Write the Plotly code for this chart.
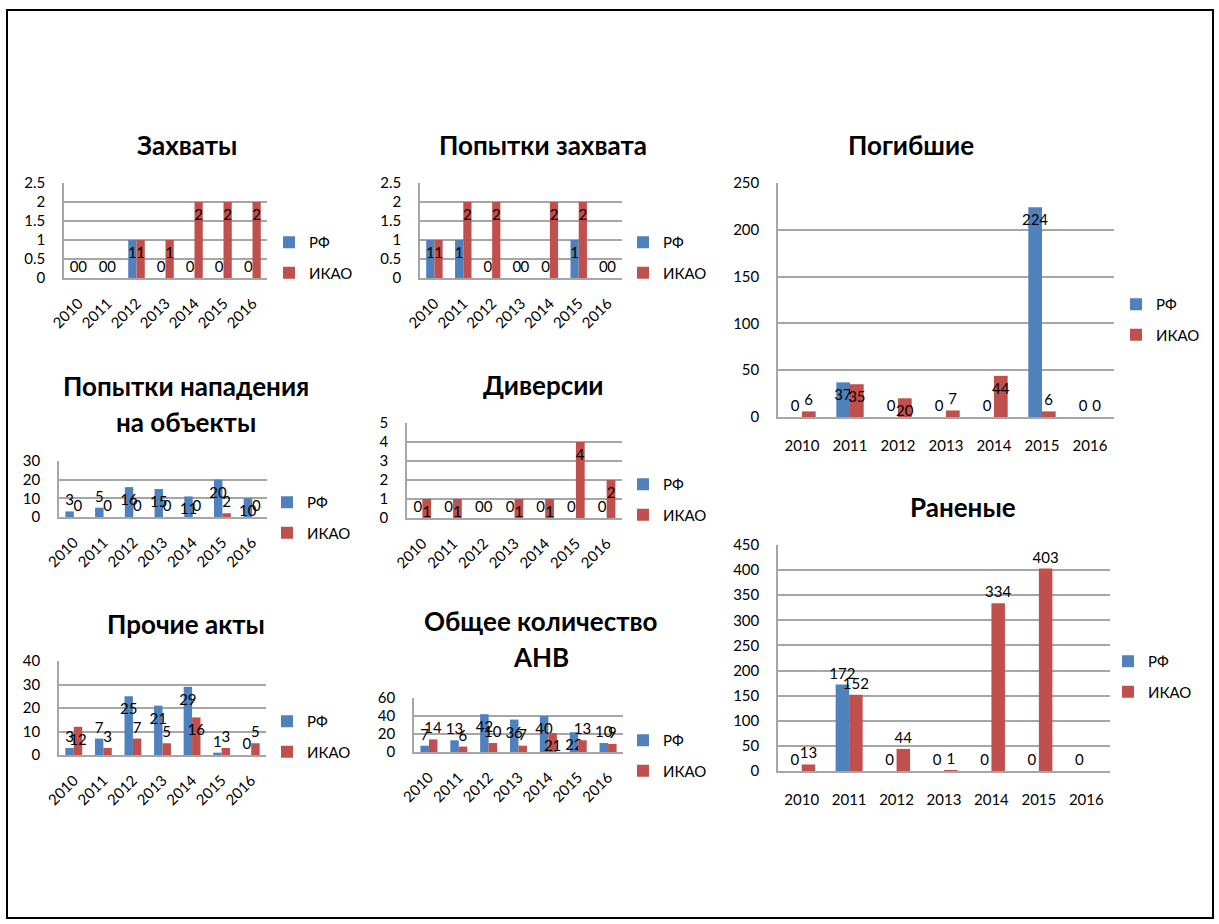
import plotly.graph_objects as go

# ---- data ----
YEARS = ["2010", "2011", "2012", "2013", "2014", "2015", "2016"]
SERIES = ["РФ", "ИКАО"]

zahvaty_rf = [0, 0, 1, 0, 0, 0, 0]
zahvaty_icao = [0, 0, 1, 1, 2, 2, 2]

popytki_zahvata_rf = [1, 1, 0, 0, 0, 1, 0]
popytki_zahvata_icao = [1, 2, 2, 0, 2, 2, 0]

pogibshie_rf = [0, 37, 0, 0, 0, 224, 0]
pogibshie_icao = [6, 35, 20, 7, 44, 6, 0]

napadenie_rf = [3, 5, 16, 15, 11, 20, 10]
napadenie_icao = [0, 0, 0, 0, 0, 2, 0]

diversii_rf = [0, 0, 0, 0, 0, 0, 0]
diversii_icao = [1, 1, 0, 1, 1, 4, 2]

ranenye_rf = [0, 172, 0, 0, 0, 0, 0]
ranenye_icao = [13, 152, 44, 1, 334, 403, None]

prochie_rf = [3, 7, 25, 21, 29, 1, 0]
prochie_icao = [12, 3, 7, 5, 16, 3, 5]

obshchee_rf = [7, 13, 42, 36, 40, 22, 10]
obshchee_icao = [14, 6, 10, 7, 21, 13, 9]

# ---- styling ----
W, H = 1219, 924
FONT = "Lato"
COLORS = {"РФ": "#4F81BD", "ИКАО": "#C0504D"}
GRID = "#a6a6a6"
LABEL_SIZE = 15
TICK_SIZE = 15


def fx(p):
    return p / W


def fy(p):
    return 1 - p / H


panels = [
    dict(title=["Захваты"], title_xy=(187, 145), rf=zahvaty_rf, icao=zahvaty_icao,
         xd=(64, 267), yd=(183, 278), ymax=2.5, dtick=0.5, rotate=True,
         legend_xy=(269, 238), mode="auto"),
    dict(title=["Попытки захвата"], title_xy=(543, 145), rf=popytki_zahvata_rf,
         icao=popytki_zahvata_icao, xd=(420, 622), yd=(183, 278), ymax=2.5, dtick=0.5,
         rotate=True, legend_xy=(623, 238), mode="auto"),
    dict(title=["Погибшие"], title_xy=(911, 145), rf=pogibshie_rf, icao=pogibshie_icao,
         xd=(778, 1114), yd=(183, 417), ymax=250, dtick=50, rotate=False,
         legend_xy=(1116, 300), mode="auto"),
    dict(title=["Попытки нападения", "на объекты"], title_xy=(186, 386),
         rf=napadenie_rf, icao=napadenie_icao, xd=(59, 267), yd=(461, 517), ymax=30,
         dtick=10, rotate=True, legend_xy=(267, 498), mode="auto"),
    dict(title=["Диверсии"], title_xy=(543, 385), rf=diversii_rf, icao=diversii_icao,
         xd=(407, 622), yd=(423, 518), ymax=5, dtick=1, rotate=True,
         legend_xy=(623, 480), mode="auto"),
    dict(title=["Раненые"], title_xy=(963, 507), rf=ranenye_rf, icao=ranenye_icao,
         xd=(778, 1110), yd=(545, 771), ymax=450, dtick=50, rotate=False,
         legend_xy=(1108, 657), mode="outside"),
    dict(title=["Прочие акты"], title_xy=(186, 624), rf=prochie_rf, icao=prochie_icao,
         xd=(59, 266), yd=(661, 755), ymax=40, dtick=10, rotate=True,
         legend_xy=(267, 717), mode="auto"),
    dict(title=["Общее количество", "АНВ"], title_xy=(541, 621), rf=obshchee_rf,
         icao=obshchee_icao, xd=(414, 623), yd=(698, 752), ymax=60, dtick=20,
         rotate=True, legend_xy=(623, 736), mode="auto"),
]


def label_positions(values, ymax, plot_h, mode):
    out = []
    for v in values:
        if v is None:
            out.append("none")
        elif mode == "outside" or v * plot_h / ymax < 18:
            out.append("outside")
        else:
            out.append("inside")
    return out


fig = go.Figure()
annotations = []
layout_extra = {}

for i, p in enumerate(panels, start=1):
    sfx = "" if i == 1 else str(i)
    xa, ya = "x" + sfx, "y" + sfx
    leg = "legend" + sfx
    plot_h = p["yd"][1] - p["yd"][0]

    for name, vals in zip(SERIES, [p["rf"], p["icao"]]):
        fig.add_trace(go.Bar(
            x=YEARS, y=vals, name=name,
            marker=dict(color=COLORS[name], line=dict(width=0)),
            text=["" if v is None else str(v) for v in vals],
            textposition=label_positions(vals, p["ymax"], plot_h, p["mode"]),
            insidetextanchor="end", textangle=0, constraintext="none",
            textfont=dict(family=FONT, size=LABEL_SIZE, color="black"),
            insidetextfont=dict(family=FONT, size=LABEL_SIZE, color="black"),
            outsidetextfont=dict(family=FONT, size=LABEL_SIZE, color="black"),
            cliponaxis=False,
            xaxis=xa, yaxis=ya, legend=leg, legendgroup=f"{i}-{name}",
            hoverinfo="x+y+name",
        ))

    layout_extra["xaxis" + sfx] = dict(
        domain=[fx(p["xd"][0]), fx(p["xd"][1])], anchor=ya, type="category",
        automargin=False,
        showgrid=False, showline=True, linecolor=GRID, linewidth=1.5,
        ticks="", tickangle=-45 if p["rotate"] else 0,
        ticklabelstandoff=9 if p["rotate"] else 14,
        tickfont=dict(family=FONT, size=TICK_SIZE, color="black"), fixedrange=True,
    )
    layout_extra["yaxis" + sfx] = dict(
        domain=[fy(p["yd"][1]), fy(p["yd"][0])], anchor=xa,
        range=[0, p["ymax"]], dtick=p["dtick"], tick0=0, automargin=False,
        showgrid=True, gridcolor=GRID, gridwidth=1.5, zeroline=False,
        showline=True, linecolor=GRID, linewidth=1.5, ticks="",
        ticklabelstandoff=14,
        tickfont=dict(family=FONT, size=TICK_SIZE, color="black"), fixedrange=True,
    )
    lx, ly = p["legend_xy"]
    layout_extra[leg] = dict(
        x=fx(lx), y=fy(ly - 12), xanchor="left", yanchor="top",
        font=dict(family=FONT, size=15, color="black"),
        bgcolor="rgba(0,0,0,0)", tracegroupgap=8, itemclick=False,
        itemdoubleclick=False,
    )

    tx, ty = p["title_xy"]
    for k, line in enumerate(p["title"]):
        annotations.append(dict(
            text=f"<b>{line}</b>", x=fx(tx), y=fy(ty + 36 * k), xref="paper",
            yref="paper", xanchor="center", yanchor="middle", showarrow=False,
            font=dict(family=FONT, size=26, color="black"),
        ))

fig.update_layout(
    width=W, height=H, margin=dict(l=0, r=0, t=0, b=0, autoexpand=False),
    paper_bgcolor="white", plot_bgcolor="white",
    barmode="group", bargap=0.43, bargroupgap=0,
    uniformtext=dict(minsize=LABEL_SIZE, mode="show"),
    annotations=annotations,
    shapes=[dict(type="rect", xref="paper", yref="paper",
                 x0=fx(7), x1=fx(1213), y0=fy(918), y1=fy(10),
                 line=dict(color="black", width=2), fillcolor="rgba(0,0,0,0)")],
    **layout_extra,
)

# the figure is exactly window-sized, so drop the default page margin
fig.write_html(
    "out.html",
    post_script="document.body.style.margin='0';document.body.style.overflow='hidden';",
)
